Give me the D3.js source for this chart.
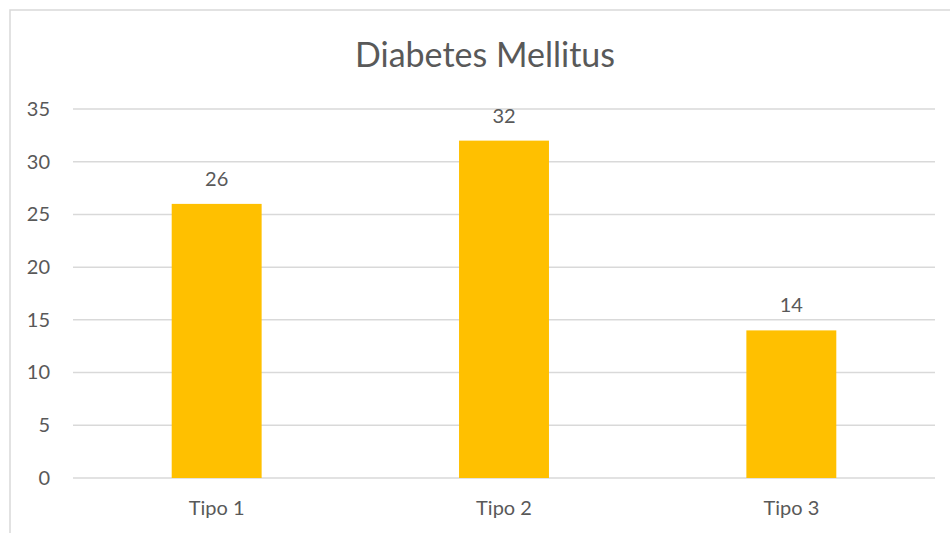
<!DOCTYPE html>
<html>
<head>
<meta charset="utf-8">
<script src="https://cdn.jsdelivr.net/npm/d3@7"></script>
<style>
  body { margin: 0; background: #fff; }
  text { font-family: Lato, 'Open Sans', sans-serif; fill: #595959; }
</style>
</head>
<body>
<div id="root"></div>
<script>
const width = 950;
const height = 533;
const margin = { top: 109, right: 15, bottom: 55, left: 73 };

const categories = ['Tipo 1', 'Tipo 2', 'Tipo 3'];
const values = [26, 32, 14];
const yTicks = [0, 5, 10, 15, 20, 25, 30, 35];

const svg = d3
  .select('#root')
  .append('svg')
  .attr('width', width)
  .attr('height', height);

// Chart frame (right and bottom edges fall outside the picture)
svg
  .append('rect')
  .attr('x', 10)
  .attr('y', 10)
  .attr('width', width + 20)
  .attr('height', height + 20)
  .attr('fill', 'none')
  .attr('stroke', '#d9d9d9')
  .attr('stroke-width', 1.5);

// Title
svg
  .append('text')
  .attr('x', 485)
  .attr('y', 67)
  .attr('text-anchor', 'middle')
  .style('font-size', '34px')
  .text('Diabetes Mellitus');

// Scales
const xScale = d3
  .scaleBand()
  .domain(categories)
  .range([margin.left, width - margin.right])
  .paddingInner(0.687)
  .paddingOuter(0.3435);

const yScale = d3
  .scaleLinear()
  .domain([0, 35])
  .range([height - margin.bottom, margin.top]);

// Gridlines
svg
  .append('g')
  .selectAll('line')
  .data(yTicks)
  .enter()
  .append('line')
  .attr('x1', margin.left)
  .attr('x2', width - margin.right)
  .attr('y1', (d) => yScale(d))
  .attr('y2', (d) => yScale(d))
  .attr('stroke', '#d9d9d9')
  .attr('stroke-width', 1.5);

// Y axis labels
const yAxis = d3.axisLeft(yScale).tickValues(yTicks).tickSize(0).tickPadding(23);

svg
  .append('g')
  .attr('transform', `translate(${margin.left}, 0)`)
  .call(yAxis)
  .call((g) => g.select('.domain').remove())
  .selectAll('text')
  .style('font-size', '20px')
  .style('font-family', 'Lato, sans-serif')
  .attr('fill', '#595959');

// X axis labels
const xAxis = d3.axisBottom(xScale).tickSize(0).tickPadding(23);

svg
  .append('g')
  .attr('transform', `translate(0, ${height - margin.bottom})`)
  .call(xAxis)
  .call((g) => g.select('.domain').remove())
  .selectAll('text')
  .style('font-size', '20px')
  .style('font-family', 'Lato, sans-serif')
  .attr('fill', '#595959');

// Bars
svg
  .append('g')
  .selectAll('rect')
  .data(values)
  .enter()
  .append('rect')
  .attr('x', (d, i) => xScale(categories[i]))
  .attr('y', (d) => yScale(d))
  .attr('width', xScale.bandwidth())
  .attr('height', (d) => yScale(0) - yScale(d))
  .attr('fill', '#ffc000');

// Data labels
svg
  .append('g')
  .selectAll('text')
  .data(values)
  .enter()
  .append('text')
  .attr('x', (d, i) => xScale(categories[i]) + xScale.bandwidth() / 2)
  .attr('y', (d) => yScale(d) - 18)
  .attr('text-anchor', 'middle')
  .style('font-size', '20px')
  .text((d) => d);
</script>
</body>
</html>
